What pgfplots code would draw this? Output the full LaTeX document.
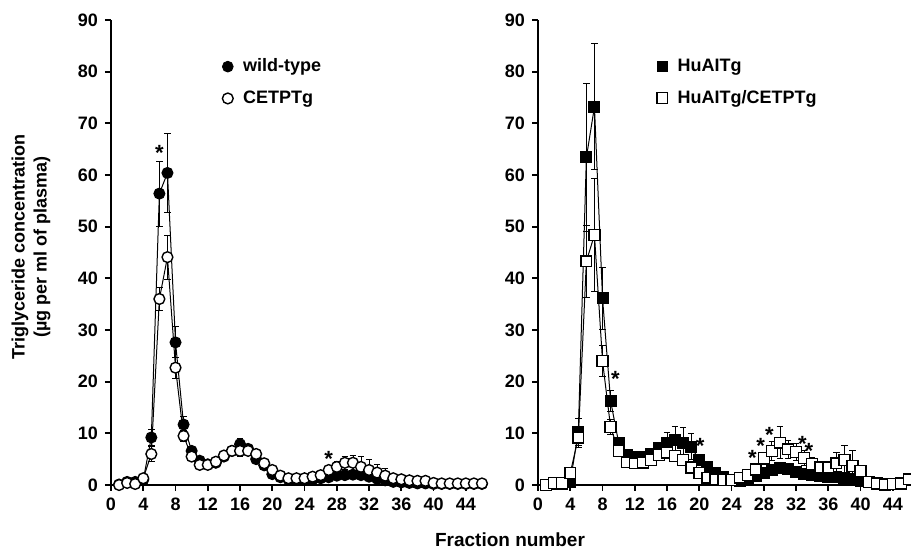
\documentclass[border=0pt]{standalone}
\usepackage{fontspec}
\setmainfont{Liberation Sans}
\usepackage{pgfplots}
\pgfplotsset{compat=1.18}

\tikzset{starlbl/.style={font=\bfseries\fontsize{11}{12}\selectfont, inner sep=0pt}}
\pgfplotsset{
  panel/.style={
    scale only axis, width=187.5pt, height=232.5pt,
    xmin=0, xmax=46.5, ymin=0, ymax=90,
    axis lines*=left,
    axis line style={line width=1.1pt},
    xtick={0,4,...,44}, ytick={0,10,...,90},
    tick align=outside, major tick length=3pt,
    tick style={line width=0.9pt, black},
    tick label style={font=\bfseries\fontsize{9}{10}\selectfont},
    /pgf/number format/assume math mode=true,
    clip=false,
    legend cell align=left,
    legend style={draw=none, fill=none, font=\bfseries\fontsize{9}{10}\selectfont,
      anchor=north west, row sep=4pt,
      /tikz/every odd column/.append style={column sep=3pt}},
  },
  ser/.style={black, line width=0.5pt, mark size=2.7pt,
    error bars/y dir=both, error bars/y explicit,
    error bars/error bar style={line width=0.4pt},
    error bars/error mark options={rotate=90, mark size=1.6pt, line width=0.4pt}},
  filled/.style={ser, mark options={fill=black, draw=black, line width=0.6pt}},
  hollow/.style={ser, mark options={fill=white, draw=black, line width=0.7pt}},
}

\begin{document}
\begin{tikzpicture}
\useasboundingbox (-55.5pt,-35.5pt) rectangle (400pt,242.5pt);

% left panel
\begin{axis}[panel,
  legend style={at={(0.28,0.935)}}]
\addlegendimage{only marks, mark=*, mark size=2.7pt, fill=black}
\addlegendentry{wild-type}
\addlegendimage{only marks, mark=o, mark size=2.7pt, mark options={fill=white, line width=0.7pt}}
\addlegendentry{CETPTg}
\addplot[filled, mark=*] coordinates {
 (1,0.1) +- (0,0) (2,0.6) +- (0,0) (3,0.6) +- (0,0) (4,1.0) +- (0,0.3)
 (5,9.2) +- (0,1.5) (6,56.4) +- (0,6.3) (7,60.4) +- (0,7.6) (8,27.6) +- (0,3.0)
 (9,11.7) +- (0,1.5) (10,6.6) +- (0,0.8) (11,4.7) +- (0,0.5) (12,4.0) +- (0,0.4)
 (13,4.3) +- (0,0.4) (14,5.5) +- (0,0.5) (15,6.6) +- (0,0.6) (16,7.9) +- (0,1.2)
 (17,7.0) +- (0,0.8) (18,5.0) +- (0,0.6) (19,3.8) +- (0,0.5) (20,2.1) +- (0,0.4)
 (21,1.5) +- (0,0.3) (22,1.1) +- (0,0.2) (23,1.0) +- (0,0.2) (24,1.0) +- (0,0.2)
 (25,1.1) +- (0,0.2) (26,1.3) +- (0,0.3) (27,1.5) +- (0,0.3) (28,1.8) +- (0,0.4)
 (29,1.9) +- (0,0.4) (30,2.0) +- (0,0.4) (31,1.9) +- (0,0.4) (32,1.6) +- (0,0.3)
 (33,1.2) +- (0,0.3) (34,0.9) +- (0,0.2) (35,0.6) +- (0,0.2) (36,0.5) +- (0,0.1)
 (37,0.4) +- (0,0.1) (38,0.3) +- (0,0.1) (39,0.3) +- (0,0.1) (40,0.2) +- (0,0.1)
 (41,0.2) +- (0,0) (42,0.2) +- (0,0) (43,0.2) +- (0,0) (44,0.2) +- (0,0)
 (45,0.2) +- (0,0) (46,0.2) +- (0,0)
};
\addplot[hollow, mark=*] coordinates {
 (1,0.0) +- (0,0) (2,0.4) +- (0,0) (3,0.2) +- (0,0) (4,1.3) +- (0,0.4)
 (5,6.0) +- (0,1.5) (6,36.0) +- (0,2.3) (7,44.1) +- (0,4.3) (8,22.7) +- (0,2.0)
 (9,9.5) +- (0,1.0) (10,5.5) +- (0,0.6) (11,3.9) +- (0,0.4) (12,3.9) +- (0,0.4)
 (13,4.5) +- (0,0.4) (14,5.7) +- (0,0.5) (15,6.6) +- (0,0.6) (16,6.6) +- (0,1.0)
 (17,6.6) +- (0,0.8) (18,6.0) +- (0,0.7) (19,4.2) +- (0,0.5) (20,2.9) +- (0,0.4)
 (21,1.8) +- (0,0.3) (22,1.3) +- (0,0.2) (23,1.3) +- (0,0.2) (24,1.3) +- (0,0.2)
 (25,1.6) +- (0,0.3) (26,1.9) +- (0,0.4) (27,2.9) +- (0,0.6) (28,3.5) +- (0,1.0)
 (29,4.3) +- (0,1.2) (30,4.3) +- (0,1.5) (31,3.5) +- (0,2.0) (32,2.9) +- (0,2.1)
 (33,2.4) +- (0,1.5) (34,1.8) +- (0,1.4) (35,1.3) +- (0,0.5) (36,1.1) +- (0,0.3)
 (37,0.9) +- (0,0.2) (38,0.8) +- (0,0.2) (39,0.8) +- (0,0.2) (40,0.4) +- (0,0.1)
 (41,0.3) +- (0,0) (42,0.3) +- (0,0) (43,0.3) +- (0,0) (44,0.3) +- (0,0)
 (45,0.3) +- (0,0) (46,0.3) +- (0,0)
};
\node[starlbl] at (axis cs:6,64.3) {*};
\node[starlbl] at (axis cs:27,5.1) {*};
\end{axis}

% right panel
\begin{axis}[panel, at={(213.5pt,0pt)},
  legend style={at={(0.30,0.935)}}]
\addlegendimage{only marks, mark=square*, mark size=2.7pt, fill=black}
\addlegendentry{HuAITg}
\addlegendimage{only marks, mark=square, mark size=2.7pt, mark options={fill=white, line width=0.7pt}}
\addlegendentry{HuAITg/CETPTg}
\addplot[filled, mark=square*] coordinates {
 (1,0.0) +- (0,0) (2,0.2) +- (0,0) (3,0.2) +- (0,0) (4,0.6) +- (0,0.3)
 (5,10.3) +- (0,2.6) (6,63.4) +- (0,14.4) (7,73.2) +- (0,12.2) (8,36.2) +- (0,6.0)
 (9,16.3) +- (0,2.1) (10,8.2) +- (0,1.0) (11,5.9) +- (0,0.6) (12,5.5) +- (0,0.5)
 (13,5.5) +- (0,0.5) (14,6.0) +- (0,0.6) (15,7.2) +- (0,1.0) (16,8.2) +- (0,2.0)
 (17,8.7) +- (0,2.7) (18,8.2) +- (0,3.0) (19,7.4) +- (0,2.5) (20,4.8) +- (0,1.0)
 (21,3.4) +- (0,0.6) (22,2.3) +- (0,0.4) (23,1.5) +- (0,0.3) (24,1.0) +- (0,0.2)
 (25,0.8) +- (0,0.2) (26,1.2) +- (0,0.2) (27,1.8) +- (0,0.3) (28,2.4) +- (0,0.4)
 (29,2.9) +- (0,0.4) (30,3.2) +- (0,0.5) (31,3.0) +- (0,0.5) (32,2.6) +- (0,0.4)
 (33,2.2) +- (0,0.4) (34,1.9) +- (0,0.3) (35,1.7) +- (0,0.3) (36,1.6) +- (0,0.3)
 (37,1.5) +- (0,0.3) (38,1.3) +- (0,0.3) (39,1.2) +- (0,0.2) (40,0.8) +- (0,0.2)
};
\addplot[hollow, mark=square*] coordinates {
 (1,0.0) +- (0,0) (2,0.4) +- (0,0) (3,0.4) +- (0,0) (4,2.3) +- (0,1.2)
 (5,9.2) +- (0,2.0) (6,43.3) +- (0,7.0) (7,48.4) +- (0,11.0) (8,24.0) +- (0,3.0)
 (9,11.2) +- (0,1.5) (10,6.6) +- (0,0.8) (11,4.4) +- (0,0.5) (12,4.2) +- (0,0.4)
 (13,4.3) +- (0,0.4) (14,4.8) +- (0,0.5) (15,5.8) +- (0,0.6) (16,6.3) +- (0,0.8)
 (17,5.6) +- (0,0.9) (18,4.8) +- (0,0.9) (19,3.4) +- (0,0.8) (20,2.3) +- (0,0.5)
 (21,1.4) +- (0,0.3) (22,1.1) +- (0,0.2) (23,1.0) +- (0,0.2) (24,1.0) +- (0,0.2)
 (25,1.4) +- (0,0.3) (26,1.9) +- (0,0.4) (27,3.0) +- (0,0.8) (28,5.2) +- (0,1.2)
 (29,6.6) +- (0,1.8) (30,8.2) +- (0,3.1) (31,6.9) +- (0,1.8) (32,6.4) +- (0,1.6)
 (33,5.2) +- (0,1.5) (34,4.1) +- (0,1.2) (35,3.4) +- (0,1.0) (36,3.4) +- (0,1.2)
 (37,4.2) +- (0,2.2) (38,4.8) +- (0,2.9) (39,3.7) +- (0,2.9) (40,2.7) +- (0,1.0)
 (41,0.6) +- (0,0.1) (42,0.3) +- (0,0) (43,0.1) +- (0,0) (44,0.2) +- (0,0)
 (45,0.3) +- (0,0) (46,1.1) +- (0,0.2)
};
\node[starlbl] at (axis cs:9.6,20.5) {*};
\node[starlbl] at (axis cs:20.1,7.5) {*};
\node[starlbl] at (axis cs:26.6,5.3) {*};
\node[starlbl] at (axis cs:27.6,7.6) {*};
\node[starlbl] at (axis cs:28.7,9.7) {*};
\node[starlbl] at (axis cs:32.8,7.9) {*};
\node[starlbl] at (axis cs:33.6,6.5) {*};
\end{axis}

\node[font=\bfseries\fontsize{9}{11}\selectfont, align=center, rotate=90]
  at (-40pt,119pt) {Triglyceride concentration\\(µg per ml of plasma)};
\node[font=\bfseries\fontsize{9.5}{11}\selectfont] at (199.5pt,-27.5pt) {Fraction number};
\end{tikzpicture}
\end{document}
